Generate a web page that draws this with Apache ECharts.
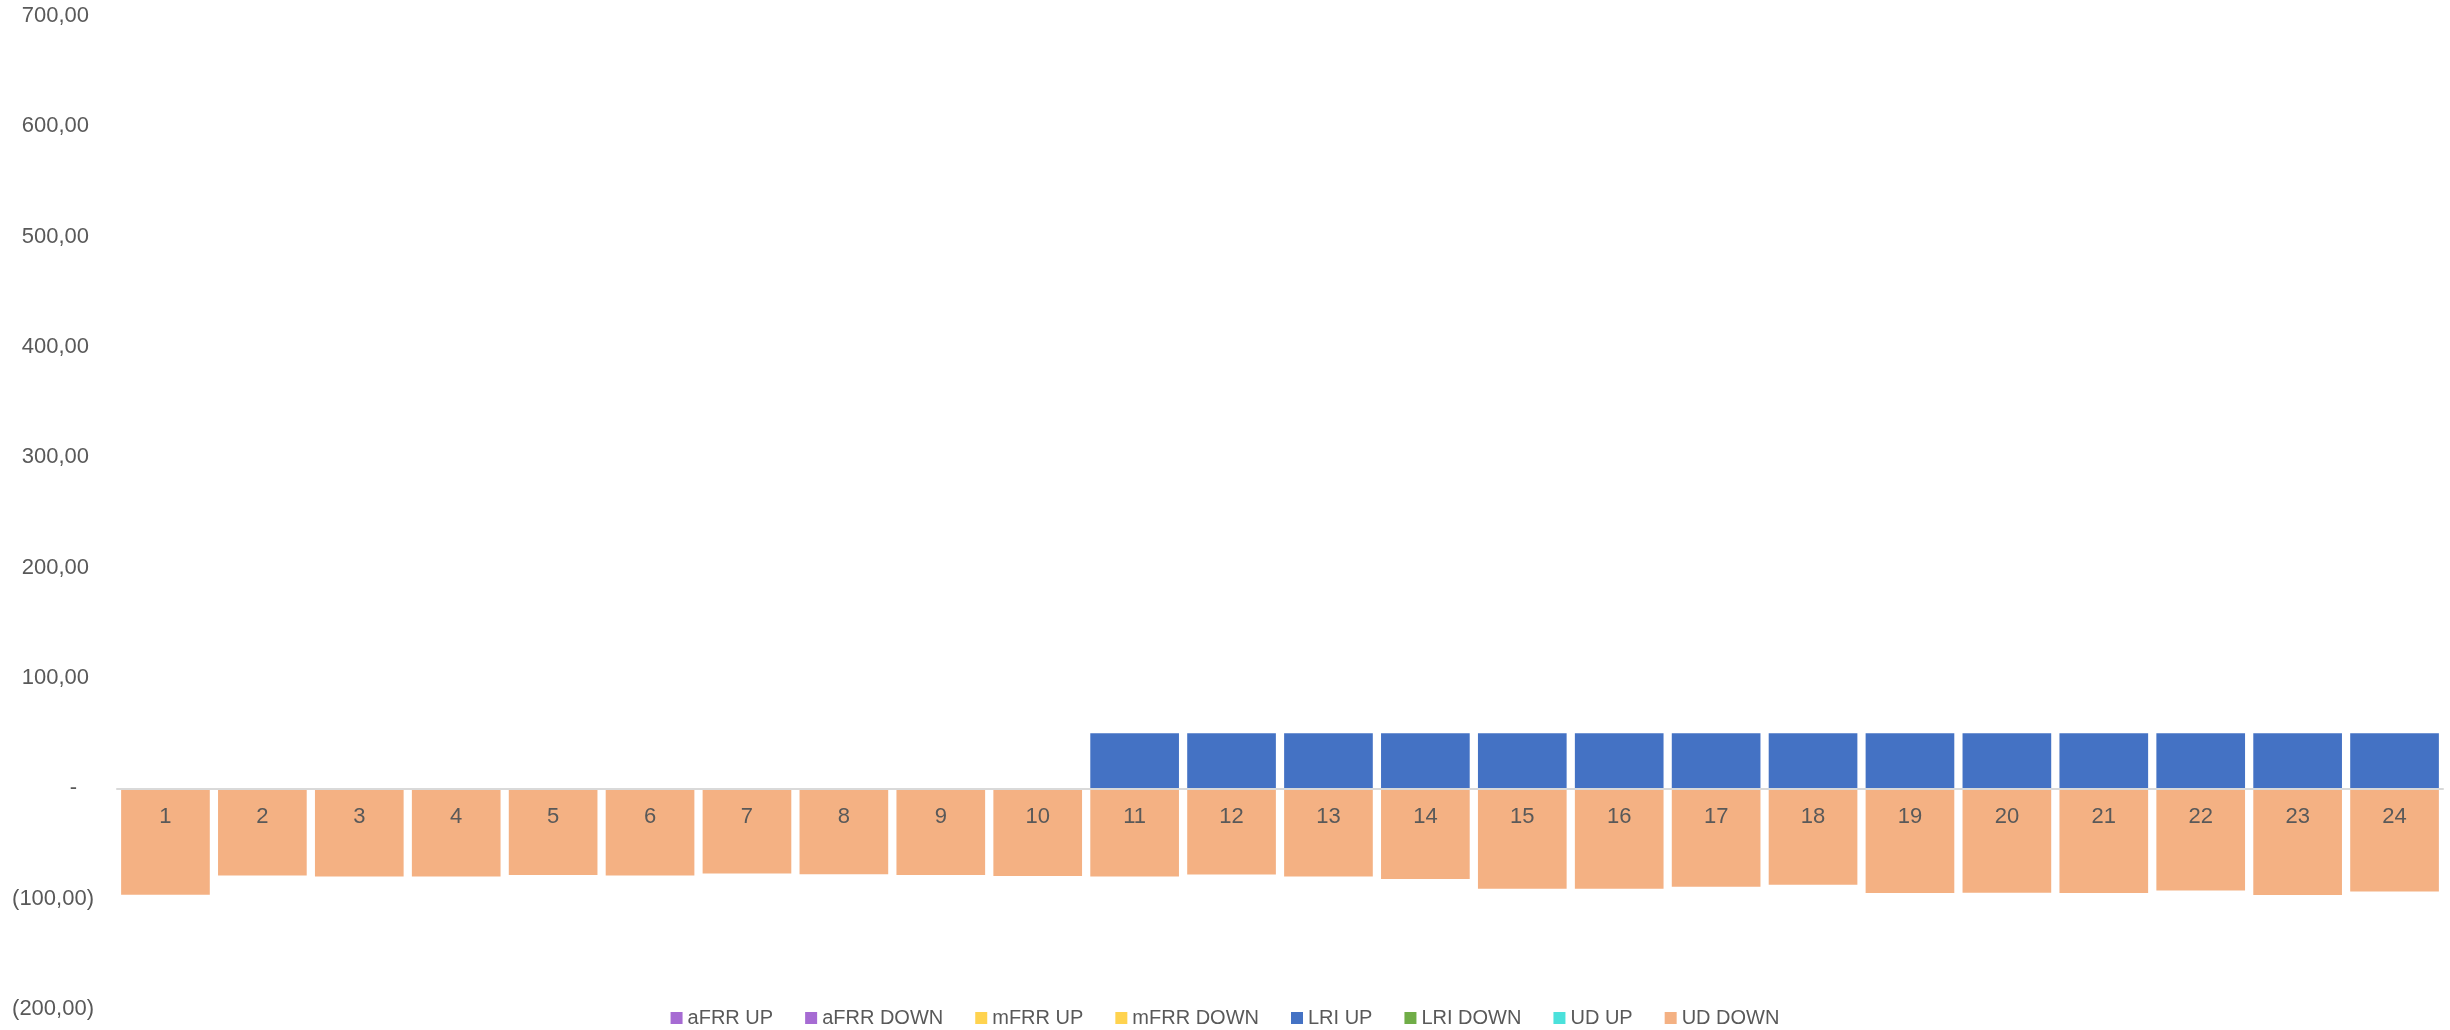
<!DOCTYPE html>
<html>
<head>
<meta charset="utf-8">
<script src="https://cdn.jsdelivr.net/npm/echarts@6/dist/echarts.min.js"></script>
<style>
html,body{margin:0;padding:0;background:#fff;}
#chart{width:2450px;height:1030px;}
</style>
</head>
<body>
<div id="chart"></div>
<script>
var hours = ['1','2','3','4','5','6','7','8','9','10','11','12','13','14','15','16','17','18','19','20','21','22','23','24'];
var seriesNames = ['aFRR UP','aFRR DOWN','mFRR UP','mFRR DOWN','LRI UP','LRI DOWN','UD UP','UD DOWN'];
var afrrUp = [];
var afrrDown = [];
var mfrrUp = [];
var mfrrDown = [];
var lriUp = [0,0,0,0,0,0,0,0,0,0,50,50,50,50,50,50,50,50,50,50,50,50,50,50];
var lriDown = [];
var udUp = [];
var udDown = [-96.4,-78.9,-79.8,-79.8,-78.5,-78.9,-77.3,-77.9,-78.5,-79.5,-79.8,-78.2,-79.8,-82.2,-90.9,-90.9,-89.1,-87.3,-94.9,-94.6,-94.9,-92.7,-96.7,-93.4];
var yMin = -200, yMax = 700, yStep = 100;

var seriesData = [afrrUp, afrrDown, mfrrUp, mfrrDown, lriUp, lriDown, udUp, udDown];
var colors = ['#A66BD3','#A66BD3','#FFD34F','#FFD34F','#4472C4','#70AD47','#4BE1DB','#F4B183'];

function fmt(v){
  if (v === 0) return '{n|-}{d| }';
  var s = Math.abs(v).toFixed(2).replace('.', ',');
  if (v < 0) return '{n|(' + s + ')}';
  return '{n|' + s + '}{p| }';
}

var W = 2450, H = 1030;
var gTop = 16, gBottom = 21;
var gH = H - gTop - gBottom;
var zeroOffset = gH * (0 - yMin) / (yMax - yMin);

var chart = echarts.init(document.getElementById('chart'));
chart.setOption({
  animation: false,
  color: colors,
  grid: {left: 117, right: 7, top: gTop, bottom: gBottom, containLabel: false, outerBoundsMode: 'none'},
  legend: {
    left: 'center',
    top: 1003,
    icon: 'rect',
    itemWidth: 12,
    itemHeight: 12,
    itemGap: 32,
    textStyle: {color: '#595959', fontSize: 20, fontFamily: 'Liberation Sans'},
    data: seriesNames
  },
  xAxis: {
    type: 'category',
    data: hours,
    z: 10,
    position: 'bottom',
    offset: -zeroOffset,
    axisLine: {onZero: false, lineStyle: {color: '#D9D9D9', width: 2}},
    axisTick: {show: false},
    axisLabel: {color: '#595959', fontSize: 22, fontFamily: 'Liberation Sans', margin: 18}
  },
  yAxis: {
    type: 'value',
    min: yMin, max: yMax, interval: yStep,
    axisLine: {show: false},
    axisTick: {show: false},
    splitLine: {show: false},
    axisLabel: {
      margin: 23,
      formatter: fmt,
      rich: {
        n: {color: '#595959', fontSize: 22, fontFamily: 'Liberation Sans'},
        p: {width: 5, fontSize: 22},
        d: {width: 17, fontSize: 22}
      }
    }
  },
  series: seriesNames.map(function(name, i){
    return {
      name: name,
      type: 'bar',
      stack: 'total',
      barCategoryGap: '8.5%',
      data: seriesData[i],
      itemStyle: {color: colors[i]}
    };
  })
});
</script>
</body>
</html>
